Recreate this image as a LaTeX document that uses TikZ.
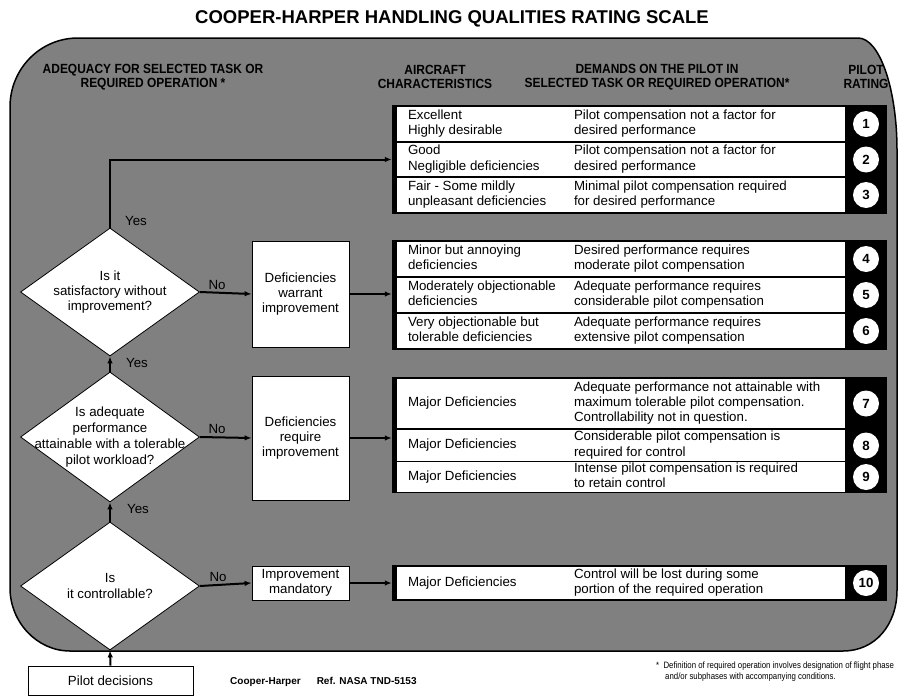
\documentclass[tikz,border=0pt]{standalone}
\usepackage{fontspec}
\setmainfont{Liberation Sans}
\newfontfamily\narrowfont[FakeStretch=0.85]{Liberation Sans}
\newfontfamily\headfont[FakeStretch=0.9]{Liberation Sans}
\usepackage{array}
\usetikzlibrary{shapes.geometric,arrows.meta}

\definecolor{panelgrey}{RGB}{128,128,128}
\newcommand{\chbody}{\fontsize{13.3}{15.3}\selectfont}
\newcommand{\chhead}{\headfont\fontsize{13.3}{14.5}\selectfont\bfseries}
\newcommand{\chsmall}{\narrowfont\fontsize{9.2}{10.8}\selectfont}
\newcommand{\cells}[2]{\begin{tabular}{@{}>{\raggedright\arraybackslash}m{166pt}@{}>{\raggedright\arraybackslash}m{260pt}@{}}#1 & #2\end{tabular}}

\tikzset{
  >={Latex[length=7pt,width=5.5pt]},
  panel/.style={draw=black, line width=1.5pt, fill=panelgrey},
  decision/.style={diamond, draw=black, line width=0.8pt, fill=white, inner sep=0pt, minimum width=179pt, minimum height=128pt},
  qtext/.style={align=center, inner sep=0pt, font=\chbody},
  outcome/.style={draw=black, line width=0.8pt, fill=white, inner sep=0pt, minimum width=97pt, align=center, font=\chbody},
  group/.style={fill=black, inner sep=0pt, minimum width=495pt},
  cell/.style={fill=white, inner sep=0pt, minimum width=448pt, font=\chbody},
  rating/.style={circle, fill=white, inner sep=0pt, minimum size=26pt, font=\chbody\bfseries},
  flow/.style={->, line width=2pt},
  answer/.style={font=\chbody, inner sep=1pt},
  heading/.style={align=center, font=\chhead, inner sep=0pt}
}

\begin{document}
\begin{tikzpicture}[x=1pt,y=-1pt]
\useasboundingbox (0,0) rectangle (899,696);

% title and rounded panel
\node[font=\fontsize{18.5}{20}\selectfont\bfseries] (title) at (452,19) {COOPER-HARPER HANDLING QUALITIES RATING SCALE};
\draw[panel] (10,107) .. controls (10,69) and (40,38) .. (78,38) -- (858,38)
  .. controls (880,38) and (897,90) .. (897,150) -- (897,590)
  .. controls (897,625) and (875,651) .. (843,651) -- (70,651)
  .. controls (37,651) and (10,622) .. (10,588) -- cycle;

% column headings
\node[heading] (hA) at (153,77) {ADEQUACY FOR SELECTED TASK OR\\REQUIRED OPERATION *};
\node[heading] (hB) at (435,77) {AIRCRAFT\\CHARACTERISTICS};
\node[heading] (hC) at (657,77) {DEMANDS ON THE PILOT IN\\SELECTED TASK OR REQUIRED OPERATION*};
\node[heading] (hD) at (866,77) {PILOT\\RATING};

% rating groups
\node[group, minimum height=109pt] (G1) at (639.5,159.5) {};
\node[group, minimum height=110pt] (G2) at (639.5,295) {};
\node[group, minimum height=116pt] (G3) at (639.5,435) {};
\node[group, minimum height=36pt] (G4) at (639.5,583) {};

\node[cell, minimum height=34pt] (R1) at (621,124) {\cells{Excellent\newline Highly desirable}{Pilot compensation not a factor for\newline desired performance}};
\node[cell, minimum height=33pt] (R2) at (621,159.5) {\cells{Good\newline Negligible deficiencies}{Pilot compensation not a factor for\newline desired performance}};
\node[cell, minimum height=34pt] (R3) at (621,195) {\cells{Fair - Some mildly\newline unpleasant deficiencies}{Minimal pilot compensation required\newline for desired performance}};
\node[cell, minimum height=34pt] (R4) at (621,259) {\cells{Minor but annoying\newline deficiencies}{Desired performance requires\newline moderate pilot compensation}};
\node[cell, minimum height=34pt] (R5) at (621,295) {\cells{Moderately objectionable\newline deficiencies}{Adequate performance requires\newline considerable pilot compensation}};
\node[cell, minimum height=34pt] (R6) at (621,331) {\cells{Very objectionable but\newline tolerable deficiencies}{Adequate performance requires\newline extensive pilot compensation}};
\node[cell, minimum height=49pt] (R7) at (621,403.5) {\cells{Major Deficiencies}{Adequate performance not attainable with\newline maximum tolerable pilot compensation.\newline Controllability not in question.}};
\node[cell, minimum height=31pt] (R8) at (621,445.5) {\cells{Major Deficiencies}{Considerable pilot compensation is\newline required for control}};
\node[cell, minimum height=30pt] (R9) at (621,477) {\cells{Major Deficiencies}{Intense pilot compensation is required\newline to retain control}};
\node[cell, minimum height=32pt] (R10) at (621,583) {\cells{Major Deficiencies}{Control will be lost during some\newline portion of the required operation}};

\node[rating] (N1) at (866,124) {1};
\node[rating] (N2) at (866,159.5) {2};
\node[rating] (N3) at (866,195) {3};
\node[rating] (N4) at (866,259) {4};
\node[rating] (N5) at (866,295) {5};
\node[rating] (N6) at (866,331) {6};
\node[rating] (N7) at (866,403.5) {7};
\node[rating] (N8) at (866,445.5) {8};
\node[rating] (N9) at (866,477) {9};
\node[rating] (N10) at (866,583) {10};

% decisions
\node[decision] (Q1) at (110,292) {};
\node[qtext] (Q1t) at (Q1.center) {Is it\\satisfactory without\\improvement?};
\node[decision, minimum height=130pt] (Q2) at (110,437) {};
\node[qtext, font=\fontsize{13.3}{16}\selectfont] (Q2t) at (Q2.center) {Is adequate\\performance\\attainable with a tolerable\\pilot workload?};
\node[decision] (Q3) at (110,586) {};
\node[qtext] (Q3t) at (Q3.center) {Is\\it controllable?};

\node[outcome, minimum height=106pt] (D1) at (300.5,294) {Deficiencies\\warrant\\improvement};
\node[outcome, minimum height=124pt] (D2) at (300.5,438) {Deficiencies\\require\\improvement};
\node[outcome, minimum height=34pt] (D3) at (300.5,583) {Improvement\\mandatory};

\node[draw=black, line width=0.8pt, fill=white, minimum width=165pt, minimum height=29pt, font=\chbody] (P) at (110.5,680.5) {Pilot decisions};

% connectors
\draw[flow] (P.north) -- (Q3.south);
\draw[flow] (Q3.north) -- (Q2.south);
\draw[flow] (Q2.north) -- (Q1.south);
\draw[flow] (Q1.north) |- (G1.west);
\draw[flow] (Q1.east) -- (D1.west);
\draw[flow] (Q2.east) -- (D2.west);
\draw[flow] (Q3.east) -- (D3.west);
\draw[flow] (D1.east) -- (D1.east -| G2.west);
\draw[flow] (D2.east) -- (D2.east -| G3.west);
\draw[flow] (D3.east) -- (D3.east -| G4.west);

\node[answer] (y1) at (136,221) {Yes};
\node[answer] (y2) at (137,363) {Yes};
\node[answer] (y3) at (138,509) {Yes};
\node[answer] (n1) at (217,285) {No};
\node[answer] (n2) at (217,429) {No};
\node[answer] (n3) at (218,577) {No};

% footer
\node[anchor=base west, font=\fontsize{10}{12}\selectfont\bfseries, inner sep=0pt] (ref) at (230,684) {Cooper-Harper\hspace{16pt}Ref. NASA TND-5153};
\node[anchor=north west, align=left, font=\chsmall, inner sep=0pt] (note) at (656,662) {* \ Definition of required operation involves designation of flight phase\\\hspace*{9pt}and/or subphases with accompanying conditions.};
\end{tikzpicture}
\end{document}
